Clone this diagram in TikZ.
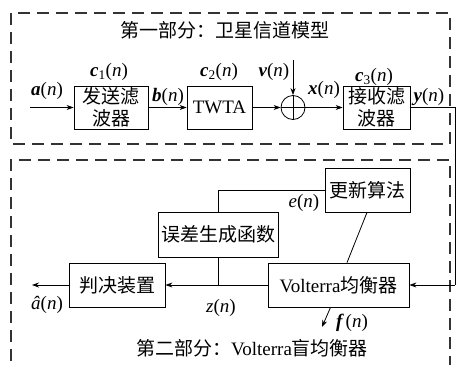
\documentclass[tikz,border=0pt]{standalone}
\usepackage{fontspec}
\setmainfont{Liberation Serif}
\newfontfamily\cjk{Noto Sans CJK SC}
\usetikzlibrary{arrows.meta}
\newcommand{\bvar}[1]{{\bfseries\itshape #1}}
\newcommand{\ivar}[1]{{\itshape #1}}
\tikzset{
  blk/.style={draw, line width=0.8pt, inner sep=0pt, align=center, font=\fontsize{19}{22}\selectfont},
  lbl/.style={inner sep=0pt, font=\fontsize{19}{22}\selectfont},
  conn/.style={line width=0.8pt},
  arr/.style={line width=0.8pt, -{Stealth[length=7pt,width=5pt]}},
  frame/.style={line width=1.2pt, draw=black!80, dash pattern=on 12pt off 7pt},
}
\begin{document}
\begin{tikzpicture}[x=1pt, y=-1pt]
\useasboundingbox (0,0) rectangle (457,364);
\begin{scope}
\clip (0,0) rectangle (457,364);
% frames
\draw[frame] (11,13) rectangle (450,144);
\draw[frame] (11,380) -- (11,160) -- (450,160) -- (450,380);
\end{scope}
\node[lbl] (t1) at (225,30) {\cjk 第一部分：卫星信道模型};
\node[lbl] (t2) at (252,348) {\cjk 第二部分：\rmfamily Volterra\cjk 盲均衡器};

% top row
\node[blk, minimum width=74pt, minimum height=43pt] (tx) at (111,107.5) {\cjk 发送滤\\\cjk 波器};
\node[blk, minimum width=65pt, minimum height=43pt] (twta) at (219.5,107.5) {TWTA};
\node[draw, circle, line width=0.8pt, minimum size=24pt, inner sep=0pt,
  path picture={\draw[line width=0.8pt] (path picture bounding box.north) -- (path picture bounding box.south)
    (path picture bounding box.west) -- (path picture bounding box.east);}] (sum) at (293,107.5) {};
\node[blk, minimum width=67pt, minimum height=43pt] (rx) at (376.5,107.5) {\cjk 接收滤\\\cjk 波器};

\coordinate (ain) at (30,107.5);
\coordinate (vin) at (293,60);
\coordinate (rtop) at (455,107.5);
\coordinate (rbot) at (455,285);

\draw[arr] (ain) -- (tx.west);
\draw[arr] (tx.east) -- (twta.west);
\draw[arr] (twta.east) -- (sum.west);
\draw[arr] (vin) -- (sum.north);
\draw[arr] (sum.east) -- (rx.west);

\node[lbl] (la) at (47,91) {\bvar{a}(\ivar{n})};
\node[lbl] (lc1) at (109,72) {\bvar{c}\textsubscript{1}(\ivar{n})};
\node[lbl] (lb) at (168,97) {\bvar{b}(\ivar{n})};
\node[lbl] (lc2) at (219,72) {\bvar{c}\textsubscript{2}(\ivar{n})};
\node[lbl] (lv) at (274,72) {\bvar{v}(\ivar{n})};
\node[lbl] (lx) at (324,90) {\bvar{x}(\ivar{n})};
\node[lbl] (lc3) at (374,77) {\bvar{c}\textsubscript{3}(\ivar{n})};
\node[lbl] (ly) at (429,97) {\bvar{y}(\ivar{n})};

% bottom part
\node[blk, minimum width=85pt, minimum height=44pt] (upd) at (367.5,190) {\cjk 更新算法};
\node[blk, minimum width=120pt, minimum height=45pt] (err) at (218,234.5) {\cjk 误差生成函数};
\node[blk, minimum width=96pt, minimum height=44pt] (dec) at (117,285) {\cjk 判决装置};
\node[blk, minimum width=141pt, minimum height=44pt] (vol) at (338.5,285) {Volterra\cjk 均衡器};

\coordinate (zj) at (218,285);
\coordinate (aout) at (32,285);
\coordinate (fout) at (322,327);

\draw[conn] (rx.east) -- (rtop) -- (rbot);
\draw[arr] (rbot) -- (vol.east);
\draw[arr] (vol.west) -- (dec.east);
\draw[arr] (dec.west) -- (aout);
\draw[conn] (err.south) -- (zj);
\draw[conn] (err.north) |- (upd.west);
\draw[conn] ([xshift=-0.5pt]upd.south) -- ([xshift=8.5pt]vol.north);
\draw[arr] ([xshift=-8pt]vol.south) -- (fout);

\node[lbl] (le) at (304,203) {\ivar{e}(\ivar{n})};
\node[lbl] (lz) at (221,308) {\ivar{z}(\ivar{n})};
\node[lbl] (lah) at (47,305) {\ivar{â}(\ivar{n})};
\node[lbl] (lf) at (352,323) {\bvar{f}\,(\ivar{n})};
\end{tikzpicture}
\end{document}
